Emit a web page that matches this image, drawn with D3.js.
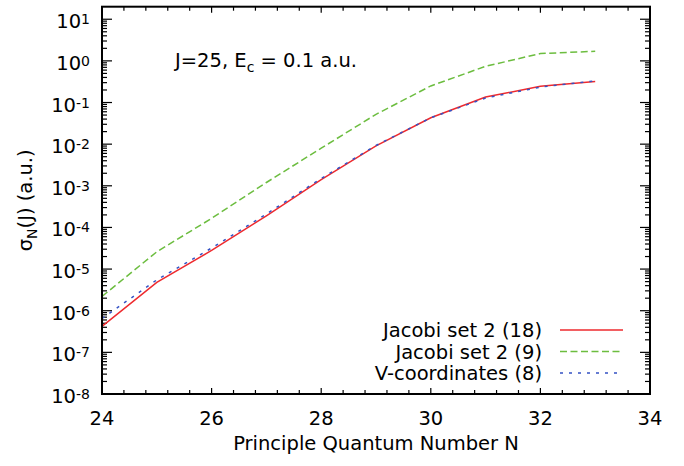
<!DOCTYPE html>
<html>
<head>
<meta charset="utf-8">
<script src="https://cdn.jsdelivr.net/npm/d3@7"></script>
<style>
  body { margin: 0; background: #fff; }
  text { font-family: "DejaVu Sans", sans-serif; fill: #000; }
</style>
</head>
<body>
<script>
const width = 684;
const height = 466;

// data
const N = [24, 25, 26, 27, 28, 29, 30, 31, 32, 33];
const jacobi18 = [4.2e-7, 4.8e-6, 2.8e-5, 1.9e-4, 1.4e-3, 9.1e-3, 0.043, 0.135, 0.245, 0.32];
const jacobi9 = [2.2e-6, 2.6e-5, 1.65e-4, 1.2e-3, 8.0e-3, 0.052, 0.25, 0.74, 1.5, 1.7];
const vcoord = [6.5e-7, 5.5e-6, 3.2e-5, 2.1e-4, 1.5e-3, 9.3e-3, 0.043, 0.128, 0.235, 0.33];

const xMajor = [24, 26, 28, 30, 32, 34];
const yExponents = [-8, -7, -6, -5, -4, -3, -2, -1, 0, 1];

const series = [
    { name: "Jacobi set 2 (18)", values: jacobi18, colour: "#ee2a2e", dash: null, width: 1.5 },
    { name: "Jacobi set 2 (9)", values: jacobi9, colour: "#6cbd3f", dash: "7,3.5", width: 1.5 },
    { name: "V-coordinates (8)", values: vcoord, colour: "#3552c4", dash: "3,6", width: 1.5 },
];

const margin = { top: 6.7, right: 34, bottom: 72, left: 102 };
const fontSize = "19.5px";
const supSize = "14px";

const svg = d3
    .select("body")
    .append("svg")
    .attr("width", width)
    .attr("height", height);

const x = d3.scaleLinear().domain([24, 34]).range([margin.left, width - margin.right]);
const y = d3.scaleLog().domain([1e-8, 20]).range([height - margin.bottom, margin.top]);

const x0 = x.range()[0], x1 = x.range()[1];
const y0 = y.range()[0], y1 = y.range()[1];

// minor ticks
const xMinor = d3.range(0, 26).map((i) => 24 + i * 0.4).filter((v) => xMajor.indexOf(Math.round(v * 10) / 10) < 0);
let yMinor = [];
yExponents.forEach((e) => {
    for (let k = 2; k <= 9; k++) {
        const v = k * Math.pow(10, e);
        if (v < 20) yMinor.push(v);
    }
});

const ticks = svg.append("g").attr("stroke", "#000").attr("stroke-width", 1.2);

// x ticks on bottom and top (inward)
function xTickLines(vals, len) {
    vals.forEach((v) => {
        ticks.append("line").attr("x1", x(v)).attr("x2", x(v)).attr("y1", y0).attr("y2", y0 - len);
        ticks.append("line").attr("x1", x(v)).attr("x2", x(v)).attr("y1", y1).attr("y2", y1 + len);
    });
}
xTickLines(xMinor, 4);
xTickLines(xMajor, 6);

// y ticks on left and right (inward)
function yTickLines(vals, len) {
    vals.forEach((v) => {
        ticks.append("line").attr("x1", x0).attr("x2", x0 + len).attr("y1", y(v)).attr("y2", y(v));
        ticks.append("line").attr("x1", x1).attr("x2", x1 - len).attr("y1", y(v)).attr("y2", y(v));
    });
}
yTickLines(yMinor, 5);
yTickLines(yExponents.map((e) => Math.pow(10, e)), 10);

// x tick labels
svg.append("g")
    .selectAll("text")
    .data(xMajor)
    .enter()
    .append("text")
    .attr("x", (d) => x(d))
    .attr("y", y0 + 31)
    .attr("text-anchor", "middle")
    .attr("font-size", fontSize)
    .text((d) => d);

// y tick labels 10^e
const yLab = svg.append("g")
    .selectAll("text")
    .data(yExponents)
    .enter()
    .append("text")
    .attr("x", 90)
    .attr("y", (d) => y(Math.pow(10, d)) + 9)
    .attr("text-anchor", "end")
    .attr("font-size", fontSize);
yLab.append("tspan").text("10");
yLab.append("tspan").attr("font-size", supSize).attr("dy", -4).text((d) => d);

// lines
const line = d3.line()
    .x((d, i) => x(N[i]))
    .y((d) => y(d));

svg.append("g")
    .selectAll("path")
    .data(series)
    .enter()
    .append("path")
    .attr("d", (d) => line(d.values))
    .attr("fill", "none")
    .attr("stroke", (d) => d.colour)
    .attr("stroke-width", (d) => d.width)
    .attr("stroke-dasharray", (d) => d.dash);

// frame
svg.append("rect")
    .attr("x", x0)
    .attr("y", y1)
    .attr("width", x1 - x0)
    .attr("height", y0 - y1)
    .attr("fill", "none")
    .attr("stroke", "#000")
    .attr("stroke-width", 2);

// legend
const legendItems = svg.append("g")
    .selectAll(".legend-item")
    .data(series)
    .enter()
    .append("g")
    .attr("class", "legend-item")
    .attr("transform", (d, i) => `translate(0, ${330 + i * 21.5})`);

legendItems.append("text")
    .attr("x", 542)
    .attr("y", 7)
    .attr("text-anchor", "end")
    .attr("font-size", fontSize)
    .text((d) => d.name);

legendItems.append("line")
    .attr("x1", 560)
    .attr("x2", 623)
    .attr("y1", 0)
    .attr("y2", 0)
    .attr("stroke", (d) => d.colour)
    .attr("stroke-width", (d) => d.width)
    .attr("stroke-dasharray", (d) => d.dash);

// annotation
const note = svg.append("text")
    .attr("x", 175)
    .attr("y", 67)
    .attr("font-size", fontSize);
note.append("tspan").text("J=25, E");
note.append("tspan").attr("font-size", supSize).attr("dy", 5).text("c");
note.append("tspan").attr("dy", -5).text(" = 0.1 a.u.");

// axis titles
svg.append("text")
    .attr("x", (x0 + x1) / 2)
    .attr("y", 450)
    .attr("text-anchor", "middle")
    .attr("font-size", fontSize)
    .text("Principle Quantum Number N");

const yTitle = svg.append("text")
    .attr("transform", `translate(32, ${(y0 + y1) / 2}) rotate(-90)`)
    .attr("text-anchor", "middle")
    .attr("font-size", fontSize);
yTitle.append("tspan").text("σ");
yTitle.append("tspan").attr("font-size", supSize).attr("dy", 5).text("N");
yTitle.append("tspan").attr("dy", -5).text("(J) (a.u.)");
</script>
</body>
</html>
